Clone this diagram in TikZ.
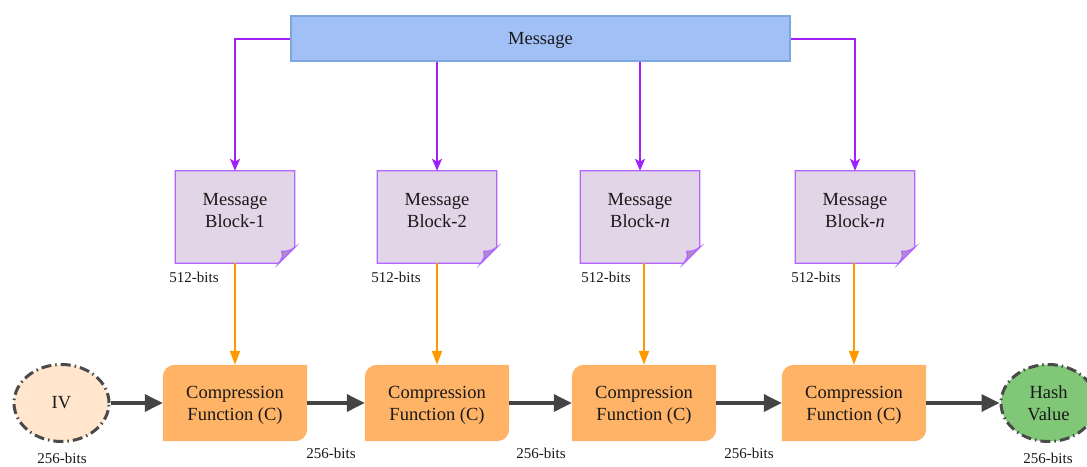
\documentclass[tikz,border=0pt]{standalone}
\usepackage{fontspec}
\setmainfont{Liberation Serif}
\usetikzlibrary{arrows.meta,calc,shapes.geometric}
\definecolor{msgfill}{HTML}{A1C0F6}
\definecolor{msgdraw}{HTML}{7EA6E0}
\definecolor{blkfill}{HTML}{E1D5E7}
\definecolor{blkdraw}{HTML}{B266FF}
\definecolor{foldfill}{HTML}{A98FC2}
\definecolor{purp}{HTML}{A11FFF}
\definecolor{compfill}{HTML}{FFB366}
\definecolor{orng}{HTML}{FF9900}
\definecolor{ivfill}{HTML}{FFE6CC}
\definecolor{hashfill}{HTML}{80C878}
\definecolor{dgray}{HTML}{444444}
\definecolor{ringgray}{HTML}{4A4A4A}
\tikzset{
  main/.style={font=\fontsize{18.5}{22}\selectfont, align=center, text=black!90},
  lbl/.style={font=\fontsize{15}{18}\selectfont, text=black!90, inner sep=0pt},
  msgbox/.style={main, rectangle, fill=msgfill, draw=msgdraw, line width=1.2pt, minimum width=499pt, minimum height=45pt, inner sep=0pt},
  blockbox/.style={main, rectangle, minimum width=119pt, minimum height=92pt, inner sep=0pt},
  compbox/.style={main, rectangle, minimum width=144pt, minimum height=76pt, inner sep=0pt},
  ring/.style={main, ellipse, draw=ringgray, line width=3pt, dash pattern=on 10pt off 4pt on 1.5pt off 4pt, minimum width=95pt, minimum height=77pt, inner sep=0pt},
  purparrow/.style={draw=purp, line width=2pt, -{Stealth[length=12pt,width=10pt,inset=3pt]}},
  orngarrow/.style={draw=orng, line width=2pt, -{Triangle[length=14pt,width=10pt]}},
  grayarrow/.style={draw=dgray, line width=3.4pt, -{Triangle[length=18pt,width=17pt]}},
}
\newcommand\blockshape[1]{%
  \filldraw[fill=blkfill, draw=blkdraw, line width=1.2pt]
    (#1.north west) -- (#1.north east) -- ([yshift=16pt]#1.south east)
    -- ([xshift=-16pt]#1.south east) -- (#1.south west) -- cycle;
  \filldraw[fill=foldfill, draw=blkdraw, line width=1.2pt]
    ([yshift=16pt]#1.south east) -- ([xshift=-16pt]#1.south east)
    .. controls ([xshift=-12pt,yshift=6pt]#1.south east) .. ([xshift=-13pt,yshift=12pt]#1.south east)
    .. controls ([xshift=-6pt,yshift=12pt]#1.south east) .. cycle;
}
\newcommand\compshape[1]{%
  \fill[compfill] (#1.south west) -- ([yshift=-12pt]#1.north west)
    arc[start angle=180, end angle=90, radius=12pt] -- (#1.north east)
    -- ([yshift=12pt]#1.south east)
    arc[start angle=0, end angle=-90, radius=12pt] -- cycle;
}
\begin{document}
\begin{tikzpicture}[x=1pt,y=-1pt]
\useasboundingbox (0,0) rectangle (1087,466);
% message bar
\node[msgbox] (msg) at (540.5,38.5) {};
\node[main] at ([yshift=-2pt]msg.center) {Message};
% blocks
\node[blockbox] (b1) at (235,217) {};
\node[blockbox] (b2) at (437,217) {};
\node[blockbox] (b3) at (640,217) {};
\node[blockbox] (b4) at (855,217) {};
\blockshape{b1}\blockshape{b2}\blockshape{b3}\blockshape{b4}
\node[main] at ([yshift=6pt]b1.center) {Message\\Block-1};
\node[main] at ([yshift=6pt]b2.center) {Message\\Block-2};
\node[main] at ([yshift=6pt]b3.center) {Message\\Block-\textit{n}};
\node[main] at ([yshift=6pt]b4.center) {Message\\Block-\textit{n}};
% compression boxes
\node[compbox] (c1) at (235,403) {};
\node[compbox] (c2) at (437,403) {};
\node[compbox] (c3) at (644,403) {};
\node[compbox] (c4) at (854,403) {};
\compshape{c1}\compshape{c2}\compshape{c3}\compshape{c4}
\foreach \c in {c1,c2,c3,c4}{\node[main] at ([yshift=-2pt]\c.center) {Compression\\Function (C)};}
% IV and hash
\node[ring, fill=ivfill] (iv) at (61.5,403) {IV};
\node[ring, fill=hashfill] (hash) at (1048.5,403) {Hash\\Value};
% purple connectors
\draw[purparrow] ([yshift=-0.5pt]msg.west) -| (b1.north);
\draw[purparrow] (msg.south -| b2.north) -- (b2.north);
\draw[purparrow] (msg.south -| b3.north) -- (b3.north);
\draw[purparrow] ([yshift=-0.5pt]msg.east) -| (b4.north);
% orange connectors
\draw[orngarrow] (b1.south) -- (c1.north);
\draw[orngarrow] (b2.south) -- (c2.north);
\draw[orngarrow] (b3.south -| c3.north) -- (c3.north);
\draw[orngarrow] (b4.south -| c4.north) -- (c4.north);
% gray connectors
\draw[grayarrow] (iv.east) -- (c1.west);
\draw[grayarrow] (c1.east) -- (c2.west);
\draw[grayarrow] (c2.east) -- (c3.west);
\draw[grayarrow] (c3.east) -- (c4.west);
\draw[grayarrow] (c4.east) -- (hash.west);
% labels
\node[lbl] (l1) at (194,277) {512-bits};
\node[lbl] (l2) at (396,277) {512-bits};
\node[lbl] (l3) at (606,277) {512-bits};
\node[lbl] (l4) at (816,277) {512-bits};
\node[lbl] (k0) at (62,458) {256-bits};
\node[lbl] (k1) at (331,453) {256-bits};
\node[lbl] (k2) at (541,453) {256-bits};
\node[lbl] (k3) at (749,453) {256-bits};
\node[lbl] (k4) at (1048,458) {256-bits};
\end{tikzpicture}
\end{document}
